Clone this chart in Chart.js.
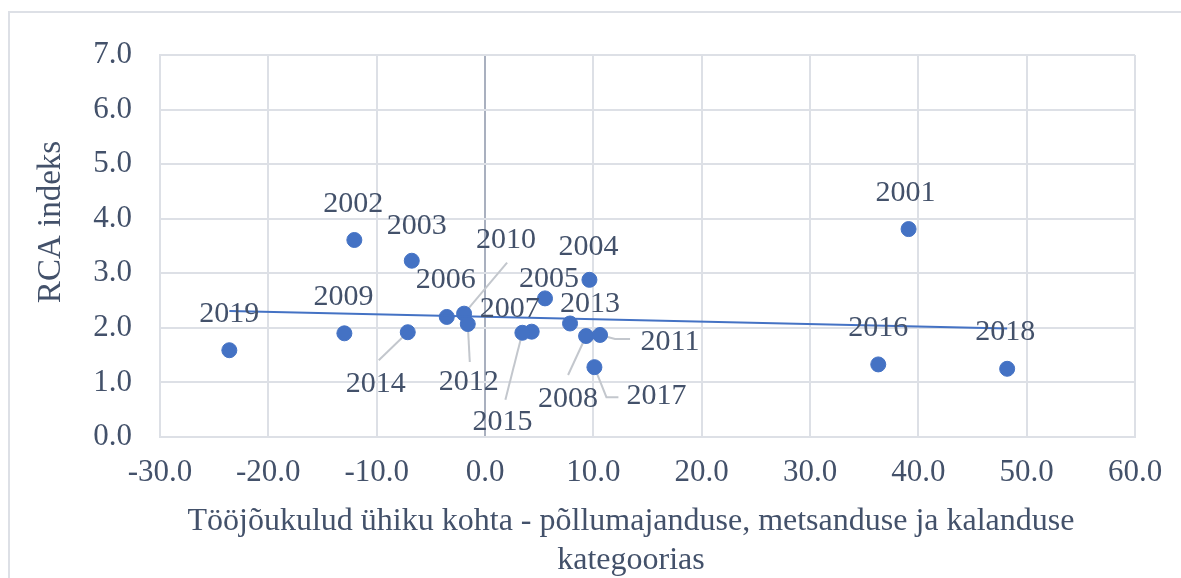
<!DOCTYPE html>
<html>
<head>
<meta charset="utf-8">
<script src="https://cdn.jsdelivr.net/npm/chart.js@4/dist/chart.umd.min.js"></script>
<style>
  body { margin: 0; background: #fff; overflow: hidden; }
  #wrap { position: relative; width: 1181px; height: 578px; }
  #frame { position: absolute; left: 8px; top: 11px; width: 1300px; height: 700px;
           border-left: 2px solid #dde0e6; border-top: 2px solid #dde0e6; }
  canvas { position: absolute; left: 0; top: 0; }
</style>
</head>
<body>
<div id="wrap">
  <div id="frame"></div>
  <canvas id="rcaChart" width="1181" height="578"></canvas>
</div>
<script>
const years = ['2001', '2002', '2003', '2004', '2005', '2006', '2007', '2008', '2009', '2010',
               '2011', '2012', '2013', '2014', '2015', '2016', '2017', '2018', '2019'];
const laborCost = [39.1, -12.06, -6.76, 9.64, 5.54, -3.53, 4.31, 9.33, -12.98, -1.93,
                   10.62, -1.59, 7.85, -7.13, 3.45, 36.3, 10.1, 48.2, -23.6];
const rcaIndex = [3.81, 3.61, 3.23, 2.88, 2.54, 2.20, 1.93, 1.85, 1.90, 2.26,
                  1.87, 2.07, 2.08, 1.92, 1.91, 1.33, 1.28, 1.25, 1.59];
const trendX = [-23.6, 48.2];
const trendY = [2.31, 1.99];
const xTicks = [-30, -20, -10, 0, 10, 20, 30, 40, 50, 60];
const yTicks = [0, 1, 2, 3, 4, 5, 6, 7];
const xTitle = ['Tööjõukulud ühiku kohta - põllumajanduse, metsanduse ja kalanduse', 'kategoorias'];
const yTitle = 'RCA indeks';

const textColor = '#43516a';
const blue = '#4472c4';
const serif = '"Liberation Serif", "Times New Roman", serif';

// where each year label sits, relative to its point (px)
const labelPos = {
  '2001': [-3, -36], '2002': [-1, -36], '2003': [5, -35], '2004': [-1, -33],
  '2005': [4, -19], '2006': [-1, -37], '2007': [-22, -23], '2008': [-18, 63],
  '2009': [-1, -36], '2010': [42, -74], '2011': [70, 7], '2012': [1, 58],
  '2013': [20, -19], '2014': [-32, 52], '2015': [-20, 89], '2016': [0, -36],
  '2017': [62, 29], '2018': [-2, -37], '2019': [0, -36]
};
// leader lines, list of points relative to the marker
const leaders = {
  '2008': [[-18, 39]],
  '2010': [[43, -51]],
  '2011': [[15, 4], [30, 4]],
  '2012': [[2, 38]],
  '2014': [[-29, 28]],
  '2015': [[-17, 67]],
  '2017': [[12, 30], [24, 30]]
};

const points = years.map((y, i) => ({ x: laborCost[i], y: rcaIndex[i] }));
const trend = trendX.map((x, i) => ({ x: x, y: trendY[i] }));

const yearLabels = {
  id: 'yearLabels',
  beforeDatasetsDraw(chart) {
    const ctx = chart.ctx;
    const meta = chart.getDatasetMeta(1);
    ctx.save();
    ctx.strokeStyle = '#c3c7cd';
    ctx.lineWidth = 2;
    meta.data.forEach((pt, i) => {
      const l = leaders[years[i]];
      if (!l) return;
      ctx.beginPath();
      ctx.moveTo(pt.x, pt.y);
      l.forEach(p => ctx.lineTo(pt.x + p[0], pt.y + p[1]));
      ctx.stroke();
    });
    ctx.restore();
  },
  afterDatasetsDraw(chart) {
    const ctx = chart.ctx;
    const meta = chart.getDatasetMeta(1);
    ctx.save();
    ctx.font = '30px ' + serif;
    ctx.fillStyle = textColor;
    ctx.textAlign = 'center';
    ctx.textBaseline = 'middle';
    meta.data.forEach((pt, i) => {
      const off = labelPos[years[i]];
      ctx.fillText(years[i], pt.x + off[0], pt.y + off[1]);
    });

    // axis titles (Excel puts them a bit off the plot centre)
    ctx.font = '32px ' + serif;
    ctx.fillText(xTitle[0], 631, 522);
    ctx.fillText(xTitle[1], 631, 561);
    ctx.translate(51, 222);
    ctx.rotate(-Math.PI / 2);
    ctx.font = '33px ' + serif;
    ctx.fillText(yTitle, 0, 0);
    ctx.restore();
  }
};

new Chart(document.getElementById('rcaChart'), {
  type: 'scatter',
  data: {
    datasets: [
      {
        type: 'line',
        label: 'Trend',
        data: trend,
        borderColor: blue,
        borderWidth: 2,
        pointRadius: 0,
        fill: false
      },
      {
        label: 'RCA',
        data: points,
        backgroundColor: blue,
        borderColor: blue,
        pointRadius: 7.5,
        pointHoverRadius: 7.5
      }
    ]
  },
  plugins: [yearLabels],
  options: {
    responsive: false,
    animation: false,
    layout: { padding: { top: 55, right: 46, left: 0, bottom: 0 } },
    plugins: { legend: { display: false }, tooltip: { enabled: false } },
    scales: {
      x: {
        type: 'linear',
        min: -30,
        max: 60,
        afterBuildTicks: s => { s.ticks = xTicks.map(v => ({ value: v })); },
        afterFit: s => { s.height = 141; },
        ticks: {
          padding: 17,
          color: textColor,
          font: { family: serif, size: 31 },
          callback: v => v.toFixed(1)
        },
        grid: {
          drawTicks: false,
          lineWidth: 2,
          color: c => (c.tick && c.tick.value === 0 ? '#a9b0bf' : '#dde0e6')
        },
        border: { display: true, color: '#dde0e6', width: 2 }
      },
      y: {
        min: 0,
        max: 7,
        afterBuildTicks: s => { s.ticks = yTicks.map(v => ({ value: v })); },
        afterFit: s => { s.width = 160; },
        ticks: {
          padding: 28,
          color: textColor,
          font: { family: serif, size: 31 },
          callback: v => v.toFixed(1)
        },
        grid: { drawTicks: false, lineWidth: 2, color: '#dde0e6' },
        border: { display: true, color: '#dde0e6', width: 2 }
      }
    }
  }
});
</script>
</body>
</html>
